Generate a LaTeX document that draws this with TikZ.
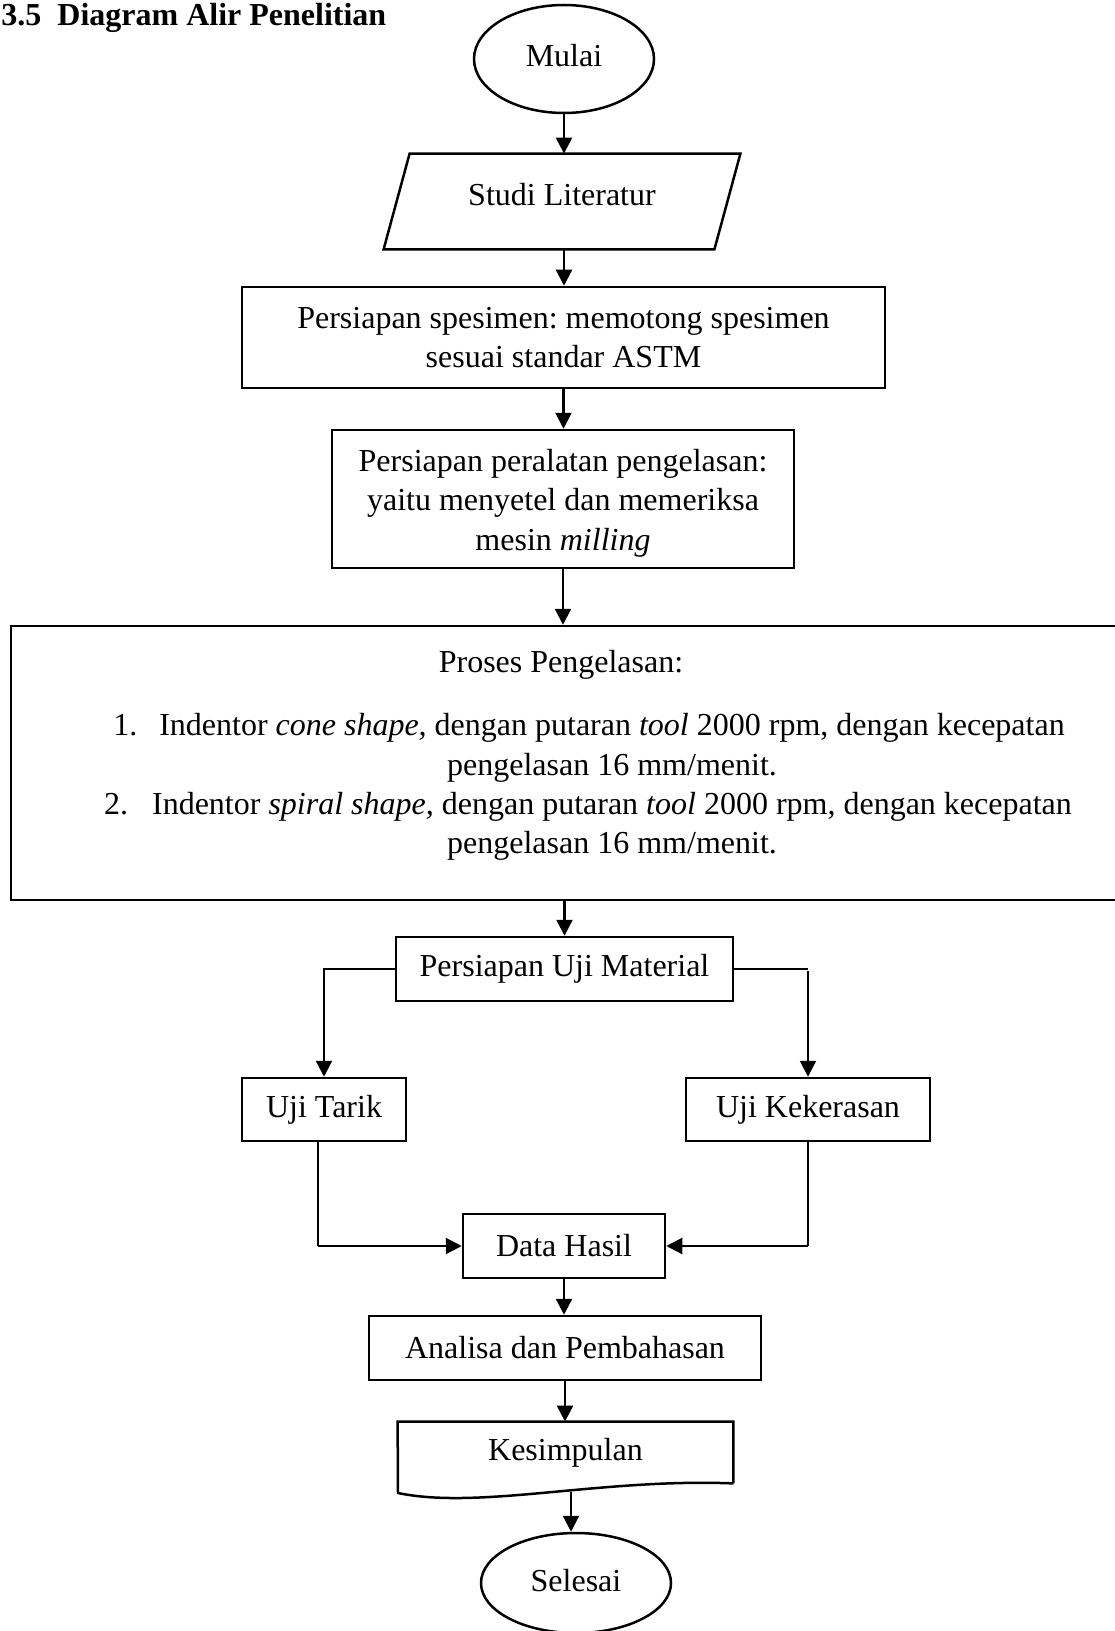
\documentclass[tikz,border=0pt]{standalone}
\usepackage{fontspec}
\setmainfont{Liberation Serif}
\frenchspacing
\usetikzlibrary{arrows.meta,shapes.geometric}
\tikzset{
  boxline/.style={line width=1.25pt},
  box/.style={draw, line width=1.25pt, inner sep=0pt, align=center},
  plain/.style={inner sep=0pt, align=center},
  conn/.style={line width=1.1pt, -{Triangle[length=8pt,width=8pt]}},
  thinline/.style={line width=0.55pt},
  lst/.style={inner sep=0pt, anchor=center},
  lbl/.style={inner sep=0pt, align=center},
}
\begin{document}
\begin{tikzpicture}[x=0.5pt,y=-0.5pt,font=\fontsize{16}{19.7}\selectfont]
\useasboundingbox (0,0) rectangle (1114,1631);
% title
\node[anchor=base west, inner sep=0pt, font=\fontsize{16}{19.7}\selectfont\bfseries] (title) at (1,26) {3.5\hspace{8pt}Diagram Alir Penelitian};
% start
\node[box, ellipse, minimum width=90pt, minimum height=54pt,
      label={[lbl, yshift=1.5pt]center:Mulai}] (mulai) at (564,59) {};
% studi literatur (parallelogram)
\node[plain, minimum width=178pt, minimum height=47.5pt,
      label={[lbl, yshift=3.5pt]center:Studi Literatur}] (studi) at (562,201.5) {};
\draw[boxline] (studi.south west) -- ([xshift=13pt]studi.north west) -- (studi.north east) -- ([xshift=-13pt]studi.south east) -- cycle;
% spesimen
\node[box, minimum width=321.5pt, minimum height=50.5pt] (spes) at (563.5,337.5) {Persiapan spesimen: memotong spesimen\\sesuai standar ASTM};
% peralatan
\node[box, minimum width=231pt, minimum height=69pt,
      label={[lbl, yshift=-2pt]center:Persiapan peralatan pengelasan:\\yaitu menyetel dan memeriksa\\mesin \textit{milling}}] (alat) at (563,499) {};
% proses
\node[box, minimum width=554.5pt, minimum height=137pt] (proses) at (565.5,763) {};
\node[lst] (phead) at (561,665) {Proses Pengelasan:};
\node[lst] (pl1) at (612,728) {Indentor \textit{cone shape,} dengan putaran \textit{tool} 2000 rpm, dengan kecepatan};
\node[lst] (pl2) at (612,768) {pengelasan 16 mm/menit.};
\node[lst] (pl3) at (612,807) {Indentor \textit{spiral shape,} dengan putaran \textit{tool} 2000 rpm, dengan kecepatan};
\node[lst] (pl4) at (612,846) {pengelasan 16 mm/menit.};
\node[inner sep=0pt, anchor=base west] (pn1) at ([xshift=-23pt]pl1.base west) {1.};
\node[inner sep=0pt, anchor=base west] (pn2) at ([xshift=-24pt]pl3.base west) {2.};
% tests
\node[box, minimum width=168.5pt, minimum height=32pt] (uji) at (564.5,969) {Persiapan Uji Material};
\node[box, minimum width=82pt, minimum height=31.5pt] (tarik) at (324,1109.5) {Uji Tarik};
\node[box, minimum width=122pt, minimum height=31.5pt] (keras) at (808,1109.5) {Uji Kekerasan};
\node[box, minimum width=101pt, minimum height=32pt] (data) at (564,1246) {Data Hasil};
\node[box, minimum width=196pt, minimum height=32pt] (anal) at (565,1348) {Analisa dan Pembahasan};
% kesimpulan (document shape)
\node[plain, minimum width=167.5pt, minimum height=30.5pt] (kes) at (565.5,1452.5) {Kesimpulan};
\draw[boxline] (kes.south east) -- (kes.north east) -- (kes.north west) -- (398,1493)
  .. controls (480,1510) and (600,1478) .. (kes.south east);
\coordinate (kesb) at (571,1492);
% end
\node[box, ellipse, minimum width=95pt, minimum height=50pt,
      label={[lbl, yshift=1pt]center:Selesai}] (selesai) at (576,1583) {};
% connectors
\draw[conn] (mulai.south) -- (mulai.south |- studi.north);
\draw[conn] ([xshift=1pt]studi.south) -- ([xshift=1pt]studi.south |- spes.north);
\draw[conn] (spes.south) -- (spes.south |- alat.north);
\draw[conn] (alat.south) -- (alat.south |- proses.north);
\draw[conn] (uji.north |- proses.south) -- (uji.north);
\draw[conn] (uji.west) -| (tarik.north);
\draw[thinline] (uji.east) -- (uji.east -| keras.north);
\draw[conn] ([yshift=-1pt]uji.east -| keras.north) -- (keras.north);
\draw[thinline] ([xshift=-3pt]tarik.south) -- ([xshift=-3pt]tarik.south |- data.west);
\draw[conn] ([xshift=-3pt]tarik.south |- data.west) -- (data.west);
\draw[thinline] (keras.south) -- (keras.south |- data.east);
\draw[conn] (keras.south |- data.east) -- (data.east);
\draw[conn] (data.south) -- (data.south |- anal.north);
\draw[conn] (anal.south) -- (anal.south |- kes.north);
\draw[conn] (kesb) -- (kesb |- selesai.north);
\end{tikzpicture}
\end{document}
